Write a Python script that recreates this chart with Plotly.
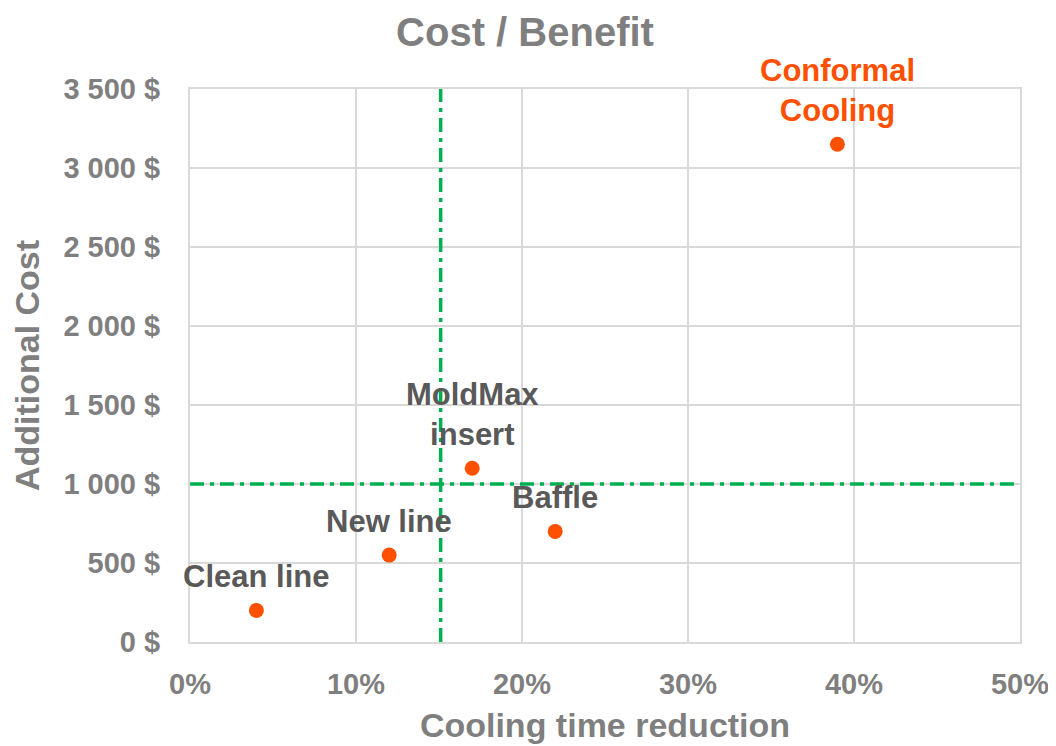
import plotly.graph_objects as go

names = ["Clean line", "New line", "MoldMax<br>insert", "Baffle", "Conformal<br>Cooling"]
reduction = [0.04, 0.12, 0.17, 0.22, 0.39]
cost = [200, 550, 1100, 700, 3150]
label_colors = ["#595959", "#595959", "#595959", "#595959", "#FF5000"]
x_threshold = 0.151
y_threshold = 1000

GRAY = "#7F7F7F"
FONT = "Liberation Sans, Arial, sans-serif"
DASH = "14px,6px,4px,6px"

fig = go.Figure()
fig.add_trace(go.Scatter(
    x=reduction, y=cost, mode="markers",
    marker=dict(color="#FF5000", size=15),
    showlegend=False, hoverinfo="skip",
))

for n, x, y, c in zip(names, reduction, cost, label_colors):
    fig.add_annotation(x=x, y=y, text=f"<b>{n}</b>", showarrow=False,
                       yanchor="bottom", yshift=14,
                       font=dict(family=FONT, size=31, color=c))

fig.add_shape(type="line", xref="x", yref="paper", x0=x_threshold, x1=x_threshold,
              y0=0, y1=1, line=dict(color="#00B050", width=3.5, dash=DASH))
fig.add_shape(type="line", xref="paper", yref="y", x0=0, x1=1,
              y0=y_threshold, y1=y_threshold, line=dict(color="#00B050", width=3.5, dash=DASH))

fig.update_layout(
    width=1056, height=746,
    margin=dict(l=182, r=44, t=81, b=112),
    paper_bgcolor="white", plot_bgcolor="white",
    separators=". ",
    title=dict(text="<b>Cost / Benefit</b>", x=0.4896, xref="container", xanchor="center",
               y=0.968, yanchor="middle", yref="container",
               font=dict(family=FONT, size=40, color=GRAY)),
    font=dict(family=FONT, color=GRAY),
    xaxis=dict(range=[0, 0.5], dtick=0.1, tickformat=".0%",
               showgrid=True, gridcolor="#D9D9D9", gridwidth=2,
               showline=True, linecolor="#D9D9D9", linewidth=2, mirror=True,
               zeroline=False, ticks="", ticklabelstandoff=15,
               tickprefix="<b>", ticksuffix="</b>",
               tickfont=dict(family=FONT, size=29, color=GRAY),
               title=dict(text="<b>Cooling time reduction</b>", standoff=14,
                          font=dict(family=FONT, size=34, color=GRAY))),
    yaxis=dict(range=[0, 3500], dtick=500, tickformat=",d",
               showgrid=True, gridcolor="#D9D9D9", gridwidth=2,
               showline=True, linecolor="#D9D9D9", linewidth=2, mirror=True,
               zeroline=False, ticks="", ticklabelstandoff=22,
               tickprefix="<b>", ticksuffix=" $</b>",
               tickfont=dict(family=FONT, size=29, color=GRAY),
               title=dict(text="<b>Additional Cost</b>", standoff=14,
                          font=dict(family=FONT, size=34, color=GRAY))),
)

fig.write_html("out.html")
